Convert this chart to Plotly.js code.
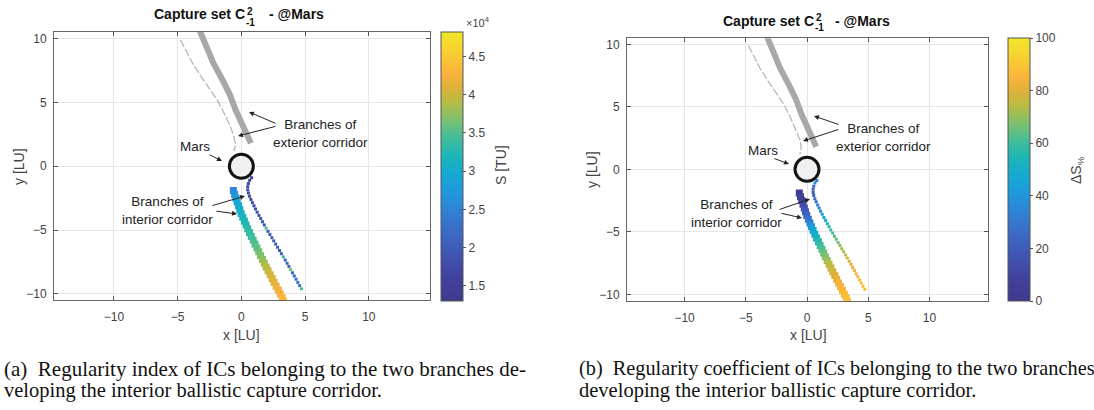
<!DOCTYPE html>
<html>
<head>
<meta charset="utf-8">
<script src="https://cdn.plot.ly/plotly-3.0.1.min.js"></script>
<style>html,body{margin:0;padding:0;background:#fff;}#chart{width:1094px;height:410px;}</style>
</head>
<body>
<div id="chart"></div>
<script>
// ---------- data ----------
// Exterior corridor (gray), thick branch
const extThickX = [-3.3, -2.7, -2.2, -1.5, -0.9, -0.45, 0.05, 0.45, 0.75];
const extThickY = [10.7, 9.1, 8.1, 6.8, 5.6, 4.4, 3.3, 2.5, 1.8];
// Exterior corridor (gray), thin branch
const extThinX = [-4.78, -4.35, -3.85, -3.2, -2.55, -1.9, -1.35, -0.86, -0.6, -0.47, -0.5, -0.6];
const extThinY = [9.9, 9.1, 8.1, 7.1, 6.15, 5.2, 4.15, 3.1, 2.4, 1.8, 1.45, 1.2];

// Interior corridor, thick branch
const intThickX = [-0.63, -0.53, -0.43, -0.33, -0.22, -0.12, -0.02, 0.11, 0.24, 0.37, 0.5, 0.64, 0.78, 0.93, 1.07,
                   1.22, 1.36, 1.5, 1.65, 1.8, 1.95, 2.1, 2.26, 2.42, 2.57, 2.73, 2.9, 3.05, 3.2, 3.3];
const intThickY = [-1.9, -2.2, -2.5, -2.8, -3.1, -3.4, -3.7, -4.0, -4.3, -4.6, -4.9, -5.2, -5.5, -5.8, -6.1,
                   -6.4, -6.7, -7.0, -7.3, -7.6, -7.9, -8.2, -8.5, -8.8, -9.1, -9.4, -9.7, -10.0, -10.3, -10.55];
const intThickS = [25000, 26500, 28000, 29000, 29800, 30500, 31000, 31500, 32000, 32500, 33000, 33500, 34000, 34500, 35000,
                   35600, 36200, 36800, 37500, 38200, 39000, 39700, 40300, 40800, 41300, 41800, 42200, 42600, 43000, 43200];
const intThickDS = [4, 6, 8, 11, 15, 19, 23, 28, 34, 40, 45, 49, 53, 56, 59,
                    62, 65, 68, 71, 74, 76, 78, 80, 82, 84, 85, 86, 87, 88, 88];

// Interior corridor, thin branch
const intThinX = [0.8, 0.65, 0.55, 0.5, 0.5, 0.55, 0.64, 0.75, 0.87, 0.99, 1.11, 1.24, 1.38, 1.52, 1.66, 1.8, 1.94, 2.09,
                  2.24, 2.39, 2.54, 2.69, 2.84, 2.99, 3.14, 3.29, 3.44, 3.59, 3.73, 3.87, 4.01, 4.15, 4.29, 4.43, 4.57, 4.72];
const intThinY = [-0.9, -1.1, -1.35, -1.6, -1.85, -2.1, -2.35, -2.6, -2.85, -3.1, -3.35, -3.6, -3.85, -4.1, -4.35, -4.6, -4.85, -5.1,
                  -5.35, -5.6, -5.85, -6.1, -6.35, -6.6, -6.85, -7.1, -7.35, -7.6, -7.85, -8.1, -8.35, -8.6, -8.85, -9.1, -9.35, -9.6];
const intThinS = [16500, 16500, 17000, 17000, 17500, 17500, 18000, 18000, 18500, 18000, 18500, 19000, 18500, 19000, 19500, 19000, 35000, 19500,
                  20000, 19500, 20000, 20500, 20000, 20500, 21000, 34000, 21000, 21500, 21000, 36000, 21500, 22000, 22500, 23000, 24000, 35000];
const intThinDS = [30, 38, 25, 22, 20, 22, 25, 28, 32, 35, 38, 42, 46, 50, 53, 56, 59, 61,
                   63, 65, 67, 69, 71, 73, 75, 77, 79, 81, 82, 83, 84, 85, 86, 87, 87, 88];

// Mars
const marsX = [0];
const marsY = [0];

// Ticks
const axisTicks = [-10, -5, 0, 5, 10];
const sTickVals = [15000, 20000, 25000, 30000, 35000, 40000, 45000];
const sTickText = ['1.5', '2', '2.5', '3', '3.5', '4', '4.5'];
const dsTickVals = [0, 20, 40, 60, 80, 100];

// ---------- styling ----------
const W = 1094, H = 410;
const P = x => x / W;
const Q = y => 1 - y / H;
const SANS = 'Liberation Sans, Arial, Helvetica, sans-serif';
const SERIF = 'Liberation Serif, Times New Roman, serif';
const TXT = '#222222';
const TICK = '#444444';

const parula = [
  [0.00, '#3e3a8c'], [0.08, '#41419c'], [0.16, '#4152b0'], [0.24, '#3e66c2'],
  [0.32, '#337dd2'], [0.40, '#2196dc'], [0.47, '#15a8d2'], [0.54, '#1bb5b8'],
  [0.61, '#45bd98'], [0.68, '#82c06c'], [0.74, '#b8bc43'], [0.80, '#e0b13a'],
  [0.85, '#fbb33c'], [0.91, '#f9ca34'], [1.00, '#f1e628']
];

function panelTraces(xa, ya, cax, thickC, thinC) {
  return [
    {x: extThinX, y: extThinY, xaxis: xa, yaxis: ya, type: 'scatter', mode: 'lines',
     line: {color: '#b8b8b8', width: 1.3, dash: '8px,2px'}, hoverinfo: 'skip'},
    {x: extThickX, y: extThickY, xaxis: xa, yaxis: ya, type: 'scatter', mode: 'lines',
     line: {color: '#a8a8a8', width: 6}, hoverinfo: 'skip'},
    {x: intThinX, y: intThinY, xaxis: xa, yaxis: ya, type: 'scatter', mode: 'markers',
     marker: {symbol: 'square', size: 3, color: thinC, coloraxis: cax}, hoverinfo: 'skip'},
    {x: intThickX, y: intThickY, xaxis: xa, yaxis: ya, type: 'scatter', mode: 'markers',
     marker: {symbol: 'square', size: 7, color: thickC, coloraxis: cax}, hoverinfo: 'skip'},
    {x: marsX, y: marsY, xaxis: xa, yaxis: ya, type: 'scatter', mode: 'markers',
     marker: {symbol: 'circle', size: 24, color: '#eff0f2', line: {color: '#141414', width: 3}}, hoverinfo: 'skip'}
  ];
}

const data = [
  ...panelTraces('x', 'y', 'coloraxis', intThickS, intThinS),
  ...panelTraces('x2', 'y2', 'coloraxis2', intThickDS, intThinDS)
];

function xAxis(domain, range, anchor) {
  return {domain, range, anchor, tickvals: axisTicks, ticks: 'inside', ticklen: 4, tickcolor: '#555',
    showline: true, linecolor: '#666', linewidth: 1, mirror: 'ticks', showgrid: true, gridcolor: '#e6e6e6',
    zeroline: false, tickfont: {family: SANS, size: 12, color: TICK}, ticklabelstandoff: 6, fixedrange: true};
}
function yAxis(domain, range, anchor) {
  return {domain, range, anchor, tickvals: axisTicks, ticks: 'inside', ticklen: 4, tickcolor: '#555',
    showline: true, linecolor: '#666', linewidth: 1, mirror: 'ticks', showgrid: true, gridcolor: '#e6e6e6',
    zeroline: false, tickfont: {family: SANS, size: 12, color: TICK}, ticklabelstandoff: 4, fixedrange: true};
}

function cbar(xpx, topPx, botPx, vals, text) {
  const cb = {thickness: 22, thicknessmode: 'pixels', len: (botPx - topPx) / H, lenmode: 'fraction',
    x: P(xpx), xanchor: 'left', y: Q(botPx), yanchor: 'bottom', xpad: 0, ypad: 0,
    outlinewidth: 1, outlinecolor: '#555', ticks: 'outside', ticklen: 3, tickcolor: '#555',
    tickfont: {family: SANS, size: 12, color: TICK}, tickvals: vals};
  if (text) cb.ticktext = text;
  return cb;
}

function label(text, cx, cy, size, opts) {
  return Object.assign({xref: 'paper', yref: 'paper', x: P(cx), y: Q(cy), text, showarrow: false,
    xanchor: 'center', yanchor: 'middle', font: {family: SANS, size, color: TXT}}, opts || {});
}
function arrow(hx, hy, tx, ty) {
  return {xref: 'paper', yref: 'paper', x: P(hx), y: Q(hy), ax: tx - hx, ay: ty - hy, text: '',
    showarrow: true, arrowhead: 2, arrowsize: 1, arrowwidth: 1, arrowcolor: '#222', standoff: 0, startstandoff: 0};
}

const bold = {family: SANS, size: 14, color: '#111'};
const boldS = {family: SANS, size: 10, color: '#111'};

const annotations = [
  // titles
  label('<b>Capture set C</b>', 246, 13.5, 14, {xanchor: 'right', font: bold, borderpad: 0}),
  label('<b>2</b>', 246, 11.5, 10, {xanchor: 'left', font: boldS, borderpad: 0}),
  label('<b>-1</b>', 245, 22, 10, {xanchor: 'left', font: boldS, borderpad: 0}),
  label('<b>- @Mars</b>', 268, 13.5, 14, {xanchor: 'left', font: bold, borderpad: 0}),
  label('<b>Capture set C</b>', 815, 20.5, 14, {xanchor: 'right', font: bold, borderpad: 0}),
  label('<b>2</b>', 814.5, 17.5, 10, {xanchor: 'left', font: boldS, borderpad: 0}),
  label('<b>-1</b>', 813.5, 27.5, 10, {xanchor: 'left', font: boldS, borderpad: 0}),
  label('<b>- @Mars</b>', 834, 20.5, 14, {xanchor: 'left', font: bold, borderpad: 0}),
  // axis titles
  label('x [LU]', 241, 335, 14, {font: {family: SANS, size: 14, color: TICK}}),
  label('y [LU]', 19, 167, 14, {textangle: -90, font: {family: SANS, size: 14, color: TICK}}),
  label('x [LU]', 808, 335, 14, {font: {family: SANS, size: 14, color: TICK}}),
  label('y [LU]', 592, 170, 14, {textangle: -90, font: {family: SANS, size: 14, color: TICK}}),
  // colorbar titles
  label('×10<sup>4</sup>', 464, 22, 11, {xanchor: 'left', font: {family: SANS, size: 11, color: TICK}}),
  label('S [TU]', 501, 165, 14, {textangle: -90, font: {family: SANS, size: 14, color: TICK}}),
  label('ΔS<sub>%</sub>', 1077, 170, 14, {textangle: -90, font: {family: SANS, size: 14, color: TICK}}),
  // left panel notes
  label('Branches of<br>exterior corridor', 320, 133, 13.5),
  arrow(249, 112, 277, 124), arrow(238, 136, 277, 126),
  label('Mars', 195, 146, 13.5),
  arrow(222, 161, 208, 154),
  label('Branches of<br>interior corridor', 167, 210, 13.5),
  arrow(245, 196, 211, 206), arrow(237, 214, 215, 211),
  // right panel notes
  label('Branches of<br>exterior corridor', 883, 137, 13.5),
  arrow(814, 116, 840, 125), arrow(803, 141, 840, 129),
  label('Mars', 763, 150, 13.5),
  arrow(789, 164, 773, 158),
  label('Branches of<br>interior corridor', 736, 213, 13.5),
  arrow(810, 199, 778, 210), arrow(802, 218, 780, 213),
  // captions
  label('(a)  Regularity index of ICs belonging to the two branches de-', 2, 368.5, 21,
        {xanchor: 'left', font: {family: SERIF, size: 21, color: '#111'}}),
  label('veloping the interior ballistic capture corridor.', 2, 390, 20.5,
        {xanchor: 'left', font: {family: SERIF, size: 20.5, color: '#111'}}),
  label('(b)  Regularity coefficient of ICs belonging to the two branches', 577, 368.5, 20.3,
        {xanchor: 'left', font: {family: SERIF, size: 20.3, color: '#111'}}),
  label('developing the interior ballistic capture corridor.', 577, 390, 20.5,
        {xanchor: 'left', font: {family: SERIF, size: 20.5, color: '#111'}})
];

const layout = {
  width: W, height: H, margin: {l: 0, r: 0, t: 0, b: 0},
  paper_bgcolor: '#ffffff', plot_bgcolor: '#ffffff', showlegend: false,
  xaxis: xAxis([P(54), P(430)], [-14.7, 14.8], 'y'),
  yaxis: yAxis([Q(300), Q(32)], [-10.48, 10.52], 'x'),
  xaxis2: xAxis([P(627), P(988)], [-14.7, 14.78], 'y2'),
  yaxis2: yAxis([Q(300.7), Q(38.3)], [-10.51, 10.48], 'x2'),
  coloraxis: {cmin: 13000, cmax: 48200, colorscale: parula, colorbar: cbar(441, 32.5, 301, sTickVals, sTickText)},
  coloraxis2: {cmin: 0, cmax: 100, colorscale: parula, colorbar: cbar(1008, 38.3, 301, dsTickVals)},
  annotations
};

Plotly.newPlot('chart', data, layout, {staticPlot: true, displayModeBar: false});
</script>
</body>
</html>
